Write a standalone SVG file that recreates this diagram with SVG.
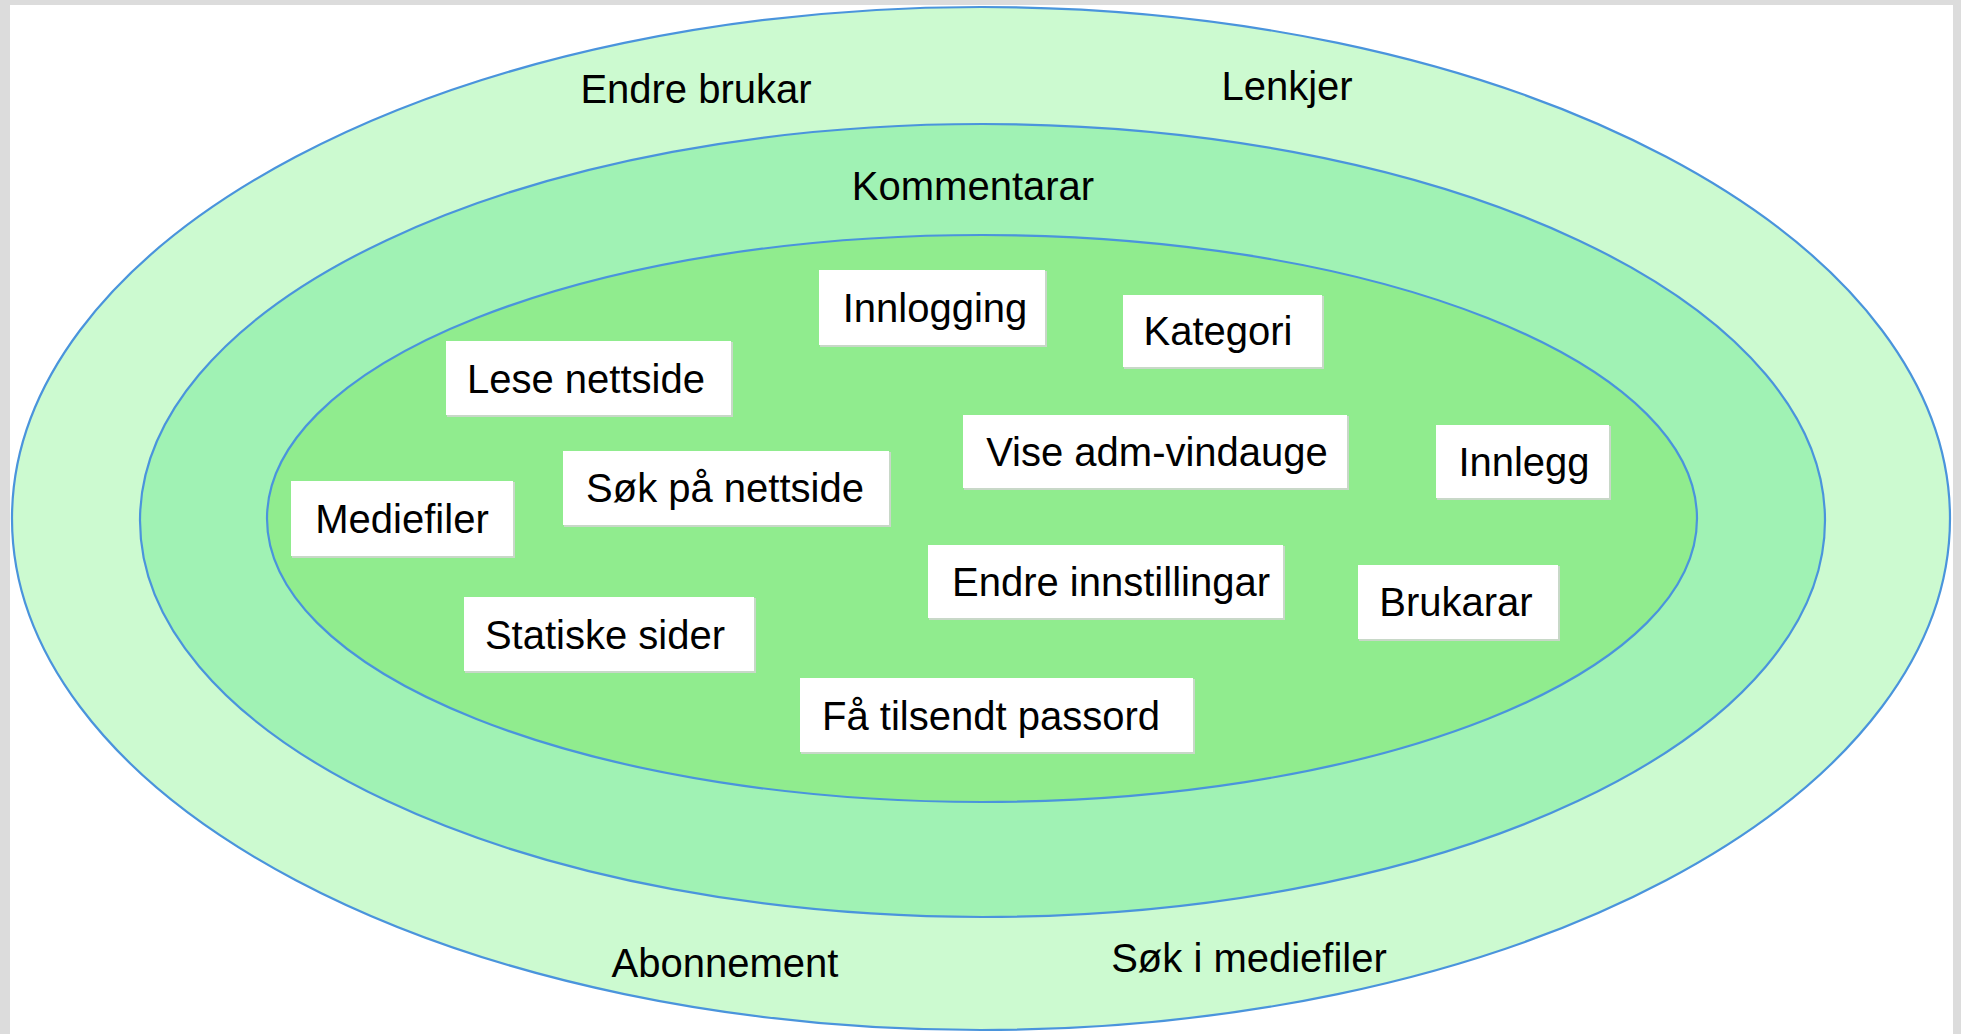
<svg xmlns="http://www.w3.org/2000/svg" width="1961" height="1034" viewBox="0 0 1961 1034">
<style>
.ring{stroke:#4a94dc;stroke-width:2.2}
.box{fill:#ffffff}
.sh{fill:#c8d8c8}
.t{font-family:"Liberation Sans",Arial,sans-serif;font-size:40px;fill:#000;text-anchor:middle}
</style>
<rect x="0" y="0" width="1961" height="1034" fill="#dcdcdc"/>
<rect x="10" y="5" width="1943" height="1029" fill="#ffffff"/>
<g id="rings">
<ellipse id="outer" class="ring" cx="981" cy="518.5" rx="969" ry="511.5" fill="#ccfad0"/>
<ellipse id="middle" class="ring" cx="982.5" cy="520.5" rx="842.5" ry="396.5" fill="#a0f2b4"/>
<ellipse id="inner" class="ring" cx="982" cy="518.5" rx="715" ry="283.5" fill="#90ec8e"/>
</g>
<g id="ring-labels">
<text class="t" x="696" y="103">Endre brukar</text>
<text class="t" x="1287" y="100">Lenkjer</text>
<text class="t" x="973" y="200">Kommentarar</text>
<text class="t" x="725" y="977">Abonnement</text>
<text class="t" x="1249" y="972">Søk i mediefiler</text>
</g>
<g id="connectors"></g>
<g id="n-innlogging"><rect class="sh" x="820" y="271" width="227" height="76"/><rect class="box" x="819" y="270" width="226" height="75"/><text class="t" x="935" y="322">Innlogging</text></g>
<g id="n-kategori"><rect class="sh" x="1124" y="296" width="200" height="73"/><rect class="box" x="1123" y="295" width="199" height="72"/><text class="t" x="1218" y="345">Kategori</text></g>
<g id="n-lese"><rect class="sh" x="447" y="342" width="286" height="75"/><rect class="box" x="446" y="341" width="285" height="74"/><text class="t" x="586" y="393">Lese nettside</text></g>
<g id="n-vise"><rect class="sh" x="964" y="416" width="385" height="74"/><rect class="box" x="963" y="415" width="384" height="73"/><text class="t" x="1157" y="466">Vise adm-vindauge</text></g>
<g id="n-innlegg"><rect class="sh" x="1437" y="426" width="174" height="74"/><rect class="box" x="1436" y="425" width="173" height="73"/><text class="t" x="1524" y="476">Innlegg</text></g>
<g id="n-sok"><rect class="sh" x="564" y="452" width="327" height="75"/><rect class="box" x="563" y="451" width="326" height="74"/><text class="t" x="725" y="502">Søk på nettside</text></g>
<g id="n-mediefiler"><rect class="sh" x="292" y="482" width="223" height="76"/><rect class="box" x="291" y="481" width="222" height="75"/><text class="t" x="402" y="533">Mediefiler</text></g>
<g id="n-endre"><rect class="sh" x="929" y="546" width="356" height="74"/><rect class="box" x="928" y="545" width="355" height="73"/><text class="t" x="1111" y="596">Endre innstillingar</text></g>
<g id="n-brukarar"><rect class="sh" x="1359" y="566" width="201" height="75"/><rect class="box" x="1358" y="565" width="200" height="74"/><text class="t" x="1456" y="616">Brukarar</text></g>
<g id="n-statiske"><rect class="sh" x="465" y="598" width="291" height="75"/><rect class="box" x="464" y="597" width="290" height="74"/><text class="t" x="605" y="649">Statiske sider</text></g>
<g id="n-passord"><rect class="sh" x="801" y="679" width="394" height="75"/><rect class="box" x="800" y="678" width="393" height="74"/><text class="t" x="991" y="730">Få tilsendt passord</text></g>
</svg>
